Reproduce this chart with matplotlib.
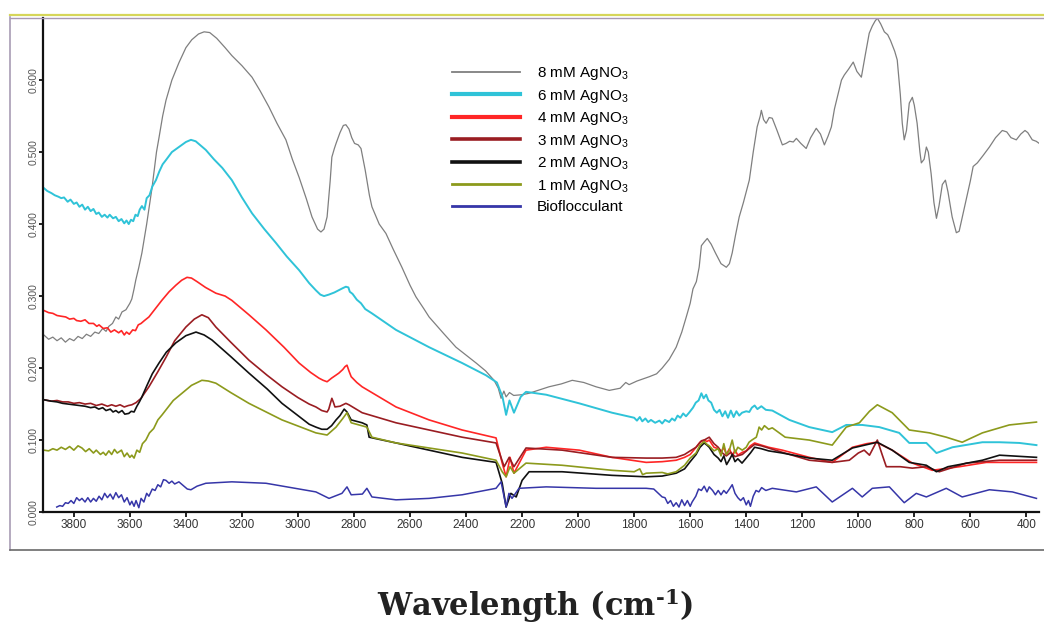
import matplotlib
matplotlib.use("Agg")
import matplotlib.pyplot as plt
from matplotlib.lines import Line2D

plt.rcParams["font.family"] = ["Liberation Sans", "DejaVu Sans"]
plt.rcParams["mathtext.fontset"] = "custom"
plt.rcParams["mathtext.rm"] = "Liberation Sans"
plt.rcParams["mathtext.bf"] = "DejaVu Serif:bold"

# ---- data (wavenumber cm-1, absorbance) ----
wn_8mM = [3907, 3890, 3875, 3860, 3845, 3830, 3815, 3800, 3785, 3770, 3755, 3740, 3725,
          3711, 3697, 3685, 3675, 3662, 3650, 3640, 3628, 3614, 3600, 3593, 3585, 3579,
          3568, 3557, 3540, 3521, 3505, 3496, 3483, 3471, 3450, 3425, 3400, 3379, 3355,
          3335, 3315, 3290, 3260, 3236, 3200, 3164, 3135, 3104, 3075, 3043, 3020, 2996,
          2970, 2950, 2930, 2918, 2907, 2896, 2885, 2879, 2870, 2864, 2850, 2838, 2829,
          2818, 2808, 2798, 2785, 2775, 2760, 2745, 2736, 2710, 2686, 2660, 2629, 2600,
          2579, 2550, 2532, 2480, 2436, 2400, 2364, 2330, 2300, 2285, 2275, 2265, 2257,
          2245, 2230, 2200, 2175, 2104, 2060, 2021, 1980, 1936, 1889, 1850, 1830, 1818,
          1790, 1746, 1720, 1700, 1675, 1650, 1630, 1614, 1600, 1590, 1578, 1568, 1560,
          1550, 1539, 1525, 1510, 1490, 1471, 1460, 1450, 1438, 1425, 1410, 1389, 1375,
          1361, 1350, 1346, 1338, 1329, 1318, 1307, 1290, 1271, 1258, 1245, 1232, 1221,
          1205, 1186, 1170, 1150, 1135, 1121, 1108, 1096, 1085, 1075, 1060, 1050, 1035,
          1018, 1005, 989, 975, 961, 950, 940, 932, 920, 907, 895, 885, 870, 861, 850,
          843, 836, 828, 818, 807, 800, 790, 780, 775, 765, 757, 750, 740, 730, 721, 712,
          700, 689, 680, 665, 650, 640, 620, 600, 590, 575, 555, 532, 510, 486, 470, 455,
          436, 420, 405, 395, 379, 365, 354]
ab_8mM = [0.246, 0.240, 0.243, 0.238, 0.242, 0.236, 0.241, 0.238, 0.244, 0.241, 0.247,
          0.244, 0.250, 0.248, 0.255, 0.251, 0.258, 0.262, 0.271, 0.268, 0.278, 0.281,
          0.290, 0.296, 0.310, 0.322, 0.340, 0.360, 0.400, 0.450, 0.500, 0.520, 0.550,
          0.572, 0.600, 0.624, 0.645, 0.656, 0.664, 0.667, 0.666, 0.658, 0.645, 0.634,
          0.620, 0.604, 0.585, 0.563, 0.540, 0.517, 0.490, 0.465, 0.435, 0.410, 0.393,
          0.389, 0.393, 0.410, 0.460, 0.493, 0.505, 0.512, 0.527, 0.537, 0.538, 0.532,
          0.520, 0.512, 0.510, 0.505, 0.475, 0.440, 0.424, 0.400, 0.387, 0.365, 0.340,
          0.315, 0.299, 0.282, 0.271, 0.248, 0.229, 0.218, 0.207, 0.196, 0.183, 0.172,
          0.158, 0.168, 0.160, 0.166, 0.162, 0.163, 0.165, 0.174, 0.178, 0.183, 0.180,
          0.174, 0.169, 0.172, 0.180, 0.177, 0.182, 0.188, 0.192, 0.200, 0.212, 0.229,
          0.250, 0.271, 0.290, 0.310, 0.320, 0.340, 0.370, 0.375, 0.380, 0.372, 0.360,
          0.345, 0.340, 0.345, 0.360, 0.385, 0.410, 0.430, 0.461, 0.500, 0.535, 0.550,
          0.558, 0.545, 0.540, 0.548, 0.547, 0.530, 0.510, 0.512, 0.515, 0.514, 0.519,
          0.512, 0.505, 0.520, 0.533, 0.525, 0.510, 0.522, 0.535, 0.560, 0.576, 0.600,
          0.607, 0.615, 0.625, 0.612, 0.604, 0.635, 0.665, 0.675, 0.682, 0.686, 0.678,
          0.667, 0.663, 0.655, 0.640, 0.628, 0.580, 0.540, 0.517, 0.530, 0.568, 0.576,
          0.565, 0.540, 0.500, 0.485, 0.490, 0.507, 0.500, 0.470, 0.430, 0.408, 0.425,
          0.455, 0.461, 0.445, 0.410, 0.388, 0.390, 0.425, 0.460, 0.480, 0.485, 0.495,
          0.507, 0.520, 0.530, 0.528, 0.520, 0.517, 0.525, 0.530, 0.527, 0.517, 0.515,
          0.512]

wn_6mM = [3907, 3895, 3880, 3868, 3855, 3845, 3835, 3822, 3812, 3800, 3790, 3780, 3770,
          3760, 3750, 3740, 3730, 3720, 3711, 3700, 3690, 3680, 3672, 3660, 3650, 3640,
          3630, 3620, 3612, 3604, 3596, 3588, 3580, 3572, 3565, 3557, 3548, 3540, 3530,
          3520, 3507, 3495, 3483, 3471, 3450, 3425, 3400, 3382, 3365, 3350, 3329, 3300,
          3270, 3236, 3200, 3164, 3120, 3079, 3040, 2996, 2960, 2936, 2920, 2907, 2890,
          2870, 2850, 2840, 2829, 2820, 2815, 2805, 2790, 2775, 2760, 2736, 2650, 2532,
          2414, 2329, 2290, 2270, 2257, 2245, 2229, 2205, 2186, 2114, 1996, 1879, 1800,
          1790, 1780, 1771, 1760, 1750, 1740, 1725, 1710, 1700, 1690, 1675, 1665, 1655,
          1645, 1635, 1625, 1615, 1604, 1590, 1580, 1570, 1560, 1552, 1543, 1535, 1525,
          1515, 1505, 1495, 1485, 1475, 1465, 1455, 1445, 1435, 1425, 1415, 1400, 1389,
          1380, 1370, 1360, 1346, 1330, 1307, 1246, 1175, 1093, 1043, 986, 925, 854, 818,
          757, 721, 664, 557, 496, 425, 364]
ab_6mM = [0.450, 0.446, 0.443, 0.440, 0.438, 0.436, 0.437, 0.431, 0.434, 0.428, 0.430,
          0.424, 0.427, 0.420, 0.424, 0.418, 0.421, 0.414, 0.416, 0.410, 0.413, 0.409,
          0.413, 0.408, 0.410, 0.404, 0.407, 0.401, 0.405, 0.400, 0.406, 0.404, 0.413,
          0.411, 0.420, 0.425, 0.420, 0.436, 0.440, 0.452, 0.461, 0.473, 0.483, 0.489,
          0.500, 0.507, 0.514, 0.517, 0.515, 0.510, 0.503, 0.490, 0.478, 0.461, 0.437,
          0.415, 0.393, 0.374, 0.355, 0.336, 0.318, 0.308, 0.302, 0.300, 0.302, 0.305,
          0.309, 0.311, 0.313, 0.312, 0.306, 0.303, 0.295, 0.290, 0.282, 0.276, 0.253,
          0.229, 0.207, 0.190, 0.180, 0.160, 0.135, 0.155, 0.138, 0.160, 0.167, 0.163,
          0.151, 0.138, 0.131, 0.127, 0.132, 0.126, 0.130, 0.125, 0.128, 0.124, 0.127,
          0.123, 0.128, 0.125, 0.130, 0.127, 0.134, 0.131, 0.137, 0.133, 0.138, 0.145,
          0.152, 0.155, 0.165, 0.158, 0.163, 0.155, 0.152, 0.142, 0.138, 0.142, 0.133,
          0.140, 0.131, 0.141, 0.132, 0.140, 0.134, 0.138, 0.140, 0.139, 0.145, 0.148,
          0.143, 0.147, 0.142, 0.141, 0.128, 0.118, 0.111, 0.121, 0.121, 0.118, 0.110,
          0.096, 0.096, 0.082, 0.090, 0.097, 0.097, 0.096, 0.093]

wn_4mM = [3907, 3890, 3875, 3860, 3845, 3829, 3815, 3800, 3790, 3775, 3760, 3746, 3730,
          3718, 3710, 3695, 3680, 3668, 3655, 3640, 3630, 3620, 3612, 3602, 3590, 3580,
          3570, 3560, 3548, 3532, 3510, 3486, 3460, 3436, 3415, 3396, 3380, 3360, 3330,
          3293, 3260, 3236, 3175, 3114, 3050, 2996, 2955, 2925, 2910, 2896, 2880, 2865,
          2854, 2840, 2832, 2825, 2818, 2810, 2790, 2771, 2650, 2532, 2414, 2293, 2271,
          2257, 2243, 2229, 2186, 2114, 1996, 1879, 1757, 1700, 1650, 1620, 1600, 1579,
          1565, 1550, 1540, 1532, 1515, 1500, 1490, 1480, 1471, 1460, 1450, 1440, 1430,
          1414, 1400, 1385, 1370, 1346, 1320, 1271, 1175, 1093, 1021, 970, 936, 879, 807,
          736, 639, 543, 364]
ab_4mM = [0.280, 0.277, 0.276, 0.273, 0.272, 0.271, 0.268, 0.269, 0.266, 0.265, 0.267,
          0.262, 0.262, 0.258, 0.260, 0.255, 0.256, 0.250, 0.253, 0.249, 0.252, 0.246,
          0.250, 0.247, 0.253, 0.252, 0.260, 0.262, 0.266, 0.271, 0.282, 0.294, 0.306,
          0.315, 0.322, 0.326, 0.325, 0.320, 0.312, 0.304, 0.300, 0.294, 0.274, 0.253,
          0.229, 0.207, 0.194, 0.186, 0.183, 0.181, 0.186, 0.190, 0.193, 0.198, 0.202,
          0.204, 0.196, 0.188, 0.180, 0.174, 0.146, 0.128, 0.114, 0.103, 0.068, 0.049,
          0.076, 0.054, 0.086, 0.090, 0.086, 0.076, 0.069, 0.070, 0.072, 0.076, 0.080,
          0.090, 0.097, 0.100, 0.098, 0.100, 0.090, 0.088, 0.083, 0.090, 0.080, 0.088,
          0.078, 0.086, 0.079, 0.083, 0.085, 0.092, 0.096, 0.093, 0.090, 0.086, 0.076,
          0.069, 0.090, 0.095, 0.097, 0.086, 0.068, 0.058, 0.063, 0.069, 0.069]

wn_3mM = [3907, 3880, 3860, 3840, 3820, 3800, 3780, 3760, 3740, 3720, 3700, 3680, 3665,
          3650, 3635, 3620, 3605, 3593, 3578, 3560, 3548, 3532, 3500, 3471, 3440, 3400,
          3370, 3343, 3320, 3293, 3240, 3175, 3110, 3057, 3000, 2960, 2936, 2915, 2896,
          2890, 2885, 2879, 2874, 2868, 2850, 2829, 2818, 2771, 2650, 2532, 2414, 2293,
          2264, 2246, 2229, 2186, 2057, 1879, 1757, 1700, 1650, 1620, 1600, 1579, 1560,
          1550, 1532, 1515, 1500, 1485, 1471, 1455, 1440, 1414, 1390, 1370, 1346, 1271,
          1175, 1093, 1032, 1000, 979, 960, 932, 915, 900, 850, 807, 757, 711, 614, 496,
          364]
ab_3mM = [0.156, 0.154, 0.155, 0.153, 0.153, 0.151, 0.152, 0.150, 0.151, 0.148, 0.150,
          0.147, 0.149, 0.147, 0.149, 0.146, 0.148, 0.149, 0.152, 0.158, 0.165, 0.174,
          0.195, 0.215, 0.238, 0.257, 0.268, 0.274, 0.270, 0.257, 0.236, 0.211, 0.190,
          0.174, 0.159, 0.150, 0.146, 0.141, 0.139, 0.143, 0.150, 0.158, 0.153, 0.146,
          0.147, 0.151, 0.149, 0.138, 0.124, 0.114, 0.104, 0.096, 0.063, 0.076, 0.063,
          0.089, 0.086, 0.076, 0.075, 0.075, 0.076, 0.080, 0.085, 0.090, 0.099, 0.100,
          0.104, 0.095, 0.090, 0.082, 0.078, 0.083, 0.077, 0.080, 0.088, 0.094, 0.092,
          0.083, 0.072, 0.069, 0.072, 0.082, 0.086, 0.079, 0.100, 0.080, 0.063, 0.063,
          0.061, 0.063, 0.056, 0.068, 0.072, 0.072]

wn_2mM = [3907, 3880, 3860, 3840, 3820, 3800, 3780, 3760, 3740, 3725, 3711, 3697, 3685,
          3670, 3660, 3650, 3640, 3628, 3618, 3604, 3595, 3585, 3575, 3566, 3557, 3540,
          3520, 3496, 3470, 3436, 3400, 3364, 3335, 3307, 3240, 3175, 3110, 3057, 3000,
          2960, 2936, 2915, 2896, 2880, 2864, 2850, 2840, 2835, 2825, 2810, 2771, 2754,
          2746, 2650, 2532, 2414, 2293, 2271, 2257, 2240, 2221, 2200, 2175, 2057, 1879,
          1757, 1700, 1650, 1620, 1600, 1579, 1565, 1550, 1540, 1532, 1515, 1500, 1490,
          1480, 1470, 1461, 1450, 1440, 1430, 1415, 1400, 1385, 1370, 1346, 1320, 1271,
          1175, 1093, 1021, 932, 879, 818, 757, 721, 680, 557, 496, 364]
ab_2mM = [0.156, 0.154, 0.153, 0.151, 0.150, 0.149, 0.148, 0.147, 0.145, 0.146, 0.143,
          0.145, 0.141, 0.143, 0.139, 0.141, 0.138, 0.141, 0.136, 0.137, 0.140, 0.139,
          0.147, 0.153, 0.160, 0.175, 0.192, 0.207, 0.222, 0.235, 0.245, 0.250, 0.246,
          0.239, 0.216, 0.193, 0.171, 0.151, 0.134, 0.122, 0.118, 0.115, 0.115, 0.120,
          0.128, 0.134, 0.140, 0.143, 0.139, 0.128, 0.124, 0.121, 0.104, 0.096, 0.086,
          0.076, 0.069, 0.040, 0.007, 0.026, 0.021, 0.044, 0.056, 0.056, 0.051, 0.049,
          0.050, 0.054, 0.060, 0.070, 0.080, 0.090, 0.096, 0.093, 0.090, 0.080, 0.075,
          0.070, 0.078, 0.066, 0.072, 0.080, 0.070, 0.074, 0.068, 0.075, 0.082, 0.090,
          0.088, 0.085, 0.082, 0.075, 0.072, 0.089, 0.097, 0.086, 0.069, 0.065, 0.056,
          0.063, 0.072, 0.079, 0.076]

wn_1mM = [3907, 3890, 3875, 3860, 3845, 3830, 3815, 3800, 3785, 3771, 3758, 3745, 3730,
          3720, 3705, 3695, 3686, 3675, 3665, 3655, 3645, 3630, 3620, 3610, 3600, 3593,
          3585, 3575, 3565, 3555, 3543, 3530, 3515, 3500, 3485, 3471, 3445, 3414, 3380,
          3343, 3320, 3293, 3240, 3175, 3057, 2936, 2896, 2864, 2840, 2825, 2810, 2754,
          2736, 2650, 2532, 2414, 2293, 2271, 2257, 2243, 2229, 2186, 2057, 1879, 1800,
          1780, 1770, 1757, 1700, 1680, 1650, 1620, 1600, 1579, 1565, 1550, 1540, 1532,
          1515, 1500, 1490, 1480, 1471, 1461, 1450, 1440, 1430, 1414, 1400, 1390, 1380,
          1364, 1358, 1354, 1345, 1335, 1320, 1307, 1261, 1175, 1093, 1043, 996, 960, 932,
          879, 818, 746, 686, 629, 557, 461, 364]
ab_1mM = [0.086, 0.085, 0.088, 0.086, 0.090, 0.087, 0.091, 0.086, 0.092, 0.089, 0.084,
          0.088, 0.082, 0.086, 0.080, 0.083, 0.079, 0.085, 0.080, 0.087, 0.082, 0.086,
          0.077, 0.082, 0.076, 0.079, 0.075, 0.086, 0.083, 0.095, 0.100, 0.110, 0.116,
          0.128, 0.135, 0.142, 0.155, 0.165, 0.176, 0.183, 0.182, 0.179, 0.166, 0.151,
          0.128, 0.110, 0.107, 0.118, 0.130, 0.138, 0.124, 0.118, 0.104, 0.096, 0.089,
          0.082, 0.072, 0.056, 0.049, 0.063, 0.054, 0.068, 0.065, 0.058, 0.056, 0.060,
          0.052, 0.054, 0.055, 0.053, 0.056, 0.065, 0.075, 0.082, 0.093, 0.098, 0.094,
          0.092, 0.085, 0.088, 0.078, 0.095, 0.080, 0.085, 0.100, 0.082, 0.090, 0.086,
          0.090, 0.097, 0.100, 0.104, 0.112, 0.118, 0.114, 0.120, 0.115, 0.117, 0.104,
          0.100, 0.093, 0.118, 0.124, 0.140, 0.149, 0.138, 0.114, 0.110, 0.104, 0.097,
          0.110, 0.121, 0.125]

wn_bio = [3861, 3850, 3840, 3830, 3820, 3810, 3800, 3790, 3780, 3771, 3760, 3750, 3740,
          3730, 3720, 3710, 3700, 3690, 3680, 3670, 3660, 3650, 3640, 3630, 3620, 3610,
          3600, 3593, 3585, 3578, 3568, 3560, 3550, 3540, 3532, 3520, 3510, 3500, 3490,
          3480, 3471, 3460, 3450, 3440, 3425, 3410, 3395, 3382, 3360, 3329, 3236, 3114,
          2936, 2889, 2843, 2825, 2810, 2770, 2754, 2736, 2650, 2532, 2414, 2293, 2275,
          2257, 2247, 2236, 2211, 2114, 1936, 1757, 1730, 1700, 1690, 1680, 1670, 1660,
          1650, 1640, 1630, 1620, 1610, 1600, 1593, 1580, 1570, 1560, 1550, 1540, 1532,
          1520, 1510, 1500, 1490, 1480, 1471, 1460, 1450, 1440, 1430, 1420, 1410, 1400,
          1392, 1385, 1375, 1365, 1355, 1345, 1330, 1307, 1221, 1150, 1093, 1021, 986,
          950, 889, 836, 793, 757, 686, 629, 532, 450, 364]
ab_bio = [0.007, 0.009, 0.008, 0.013, 0.012, 0.016, 0.012, 0.020, 0.016, 0.019, 0.014,
          0.020, 0.014, 0.019, 0.015, 0.022, 0.017, 0.026, 0.020, 0.025, 0.018, 0.027,
          0.020, 0.024, 0.014, 0.020, 0.010, 0.015, 0.008, 0.016, 0.006, 0.019, 0.014,
          0.026, 0.022, 0.032, 0.030, 0.038, 0.035, 0.045, 0.044, 0.040, 0.043, 0.039,
          0.042, 0.037, 0.032, 0.031, 0.036, 0.040, 0.042, 0.040, 0.028, 0.019, 0.026,
          0.035, 0.024, 0.025, 0.033, 0.021, 0.017, 0.019, 0.024, 0.033, 0.042, 0.007,
          0.026, 0.019, 0.033, 0.035, 0.033, 0.033, 0.032, 0.021, 0.020, 0.012, 0.016,
          0.008, 0.013, 0.007, 0.017, 0.009, 0.016, 0.008, 0.014, 0.022, 0.032, 0.030,
          0.036, 0.028, 0.035, 0.030, 0.024, 0.030, 0.024, 0.030, 0.026, 0.032, 0.038,
          0.026, 0.020, 0.016, 0.020, 0.010, 0.016, 0.008, 0.022, 0.030, 0.028, 0.034,
          0.030, 0.033, 0.028, 0.035, 0.014, 0.033, 0.021, 0.033, 0.035, 0.013, 0.026,
          0.021, 0.033, 0.021, 0.031, 0.028, 0.019]

labels = ["8 mM AgNO$_3$", "6 mM AgNO$_3$", "4 mM AgNO$_3$", "3 mM AgNO$_3$",
          "2 mM AgNO$_3$", "1 mM AgNO$_3$", "Bioflocculant"]
series = [(wn_8mM, ab_8mM), (wn_6mM, ab_6mM), (wn_4mM, ab_4mM), (wn_3mM, ab_3mM),
          (wn_2mM, ab_2mM), (wn_1mM, ab_1mM), (wn_bio, ab_bio)]
colors = ["#7f7f7f", "#2fc3d8", "#ff2626", "#9a1d22", "#111111", "#8c9a1c", "#3636a8"]
plot_lw = [0.9, 1.4, 1.2, 1.2, 1.2, 1.2, 1.1]
legend_lw = [1.3, 3.0, 3.0, 2.6, 2.6, 2.0, 2.0]

fig = plt.figure(figsize=(10.44, 6.26), dpi=100)
ax = fig.add_axes([0.0412, 0.182, 0.954, 0.789])

for (wn, ab), c, lw in zip(series, colors, plot_lw):
    ax.plot(wn, ab, color=c, lw=lw)

ax.set_xlim(3910, 355)
ax.set_ylim(0.0, 0.686)
ax.set_xticks(range(3800, 399, -200))
ax.set_yticks([0.0, 0.1, 0.2, 0.3, 0.4, 0.5, 0.6])
ax.set_yticklabels([f"{v:.3f}" for v in ax.get_yticks()], rotation=90, va="center")
ax.tick_params(axis="x", labelsize=8.5, colors="#111111", labelcolor="#333333",
               length=3.5, width=1.3, direction="out", pad=1.5)
ax.tick_params(axis="y", labelsize=7.5, colors="#111111", labelcolor="#555555",
               length=3, width=1.3, direction="out", pad=0.5)
for side in ("top", "right"):
    ax.spines[side].set_visible(False)
for side in ("left", "bottom"):
    ax.spines[side].set_linewidth(1.6)
    ax.spines[side].set_color("#111111")

handles = [Line2D([], [], color=c, lw=lw) for c, lw in zip(colors, legend_lw)]
ax.legend(handles, labels, loc="upper left", bbox_to_anchor=(0.405, 0.917),
          frameon=False, fontsize=11, handlelength=4.4, handletextpad=1.1,
          labelspacing=0.36, borderaxespad=0)

# outer frame of the original figure panel
fig.add_artist(Line2D([10 / 1044, 1], [1 - 15 / 626] * 2, color="#d6d65a", lw=1.6,
                      transform=fig.transFigure))
fig.add_artist(Line2D([10 / 1044, 1], [1 - 17.5 / 626] * 2, color="#a898b4", lw=1.0,
                      transform=fig.transFigure))
fig.add_artist(Line2D([10 / 1044] * 2, [1 - 17 / 626, 1 - 550 / 626], color="#a89cb4",
                      lw=1.2, transform=fig.transFigure))
fig.add_artist(Line2D([10 / 1044, 1], [1 - 550 / 626] * 2, color="#6a6a6a", lw=1.2,
                      transform=fig.transFigure))

fig.text(0.513, 10 / 626, "Wavelength (cm$^{\\mathbf{\u20101}}$)", ha="center",
         va="baseline", fontsize=22, fontweight="bold", family="DejaVu Serif",
         color="#222222")

fig.savefig("out.png", dpi=100)
